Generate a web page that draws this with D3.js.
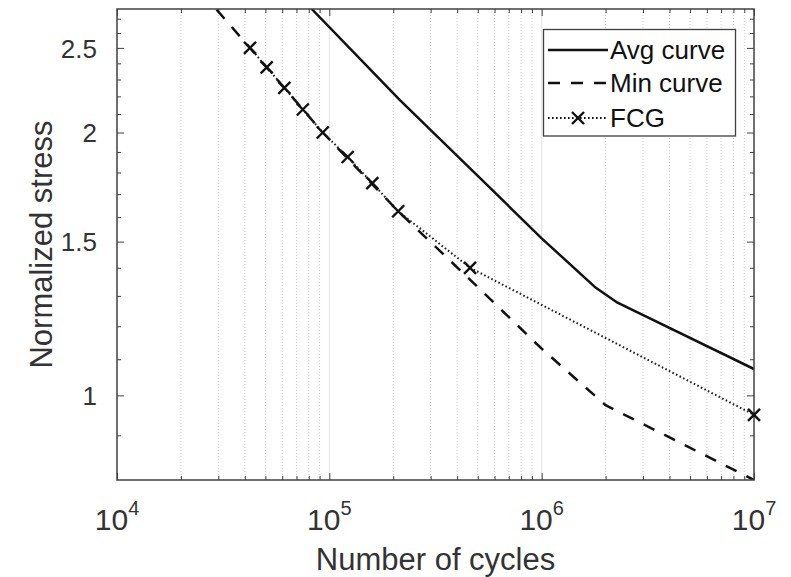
<!DOCTYPE html>
<html>
<head>
<meta charset="utf-8">
<script src="https://cdn.jsdelivr.net/npm/d3@7"></script>
<style>
	body { margin: 0; background: #ffffff; }
	svg { display: block; font-family: "Liberation Sans", Arial, sans-serif; }
</style>
</head>
<body>
<script>
// S-N data (cycles, normalized stress)
var avgCycles = [6e4, 8.26e4, 2.15e5, 4.6e5, 1e6, 1.8e6, 2.25e6, 1e7];
var avgStress = [3.0, 2.77, 2.178, 1.82, 1.513, 1.328, 1.279, 1.072];

var minCycles = [2.5e4, 4.23e4, 9.31e4, 2.11e5, 4.44e5, 1e6, 2e6, 1e7];
var minStress = [2.894, 2.5, 2.0, 1.625, 1.368, 1.131, 0.9745, 0.80];

var fcgCycles = [4.23e4, 5.07e4, 6.14e4, 7.5e4, 9.31e4, 1.22e5, 1.594e5, 2.11e5, 4.6e5, 1e7];
var fcgStress = [2.5, 2.375, 2.25, 2.125, 2.0, 1.875, 1.75, 1.625, 1.40, 0.95];

var xMajorTicks = [1e4, 1e5, 1e6, 1e7];
var xTickExponents = ["4", "5", "6", "7"];
var yMajorTicks = [1, 1.5, 2, 2.5];
var yMinorTicks = [0.9, 1.1, 1.2, 1.3, 1.4, 1.6, 1.7, 1.8, 1.9, 2.1, 2.2, 2.3, 2.4, 2.6, 2.7];

var seriesNames = ["Avg curve", "Min curve", "FCG"];

var width = 791,
	height = 577;
// plot box edges (note: "top" is taken by window.top)
var pLeft = 117, pRight = 754, pTop = 9, pBottom = 480;

var svg = d3.select("body").append("svg")
	.attr("width", width)
	.attr("height", height);

var x = d3.scaleLog().domain([1e4, 1e7]).range([pLeft, pRight]);
var y = d3.scaleLog().domain([0.8, 2.77]).range([pBottom, pTop]);

// minor x values 2..9 x 10^n
var xMinorTicks = [];
xMajorTicks.slice(0, -1).forEach(function(d) {
	for (var k = 2; k <= 9; k++) { xMinorTicks.push(d * k); }
});

// vertical grid (minor dotted, major solid)
svg.append("g").selectAll("line")
	.data(xMinorTicks)
	.enter().append("line")
	.attr("x1", function(d) { return x(d); })
	.attr("x2", function(d) { return x(d); })
	.attr("y1", pTop).attr("y2", pBottom)
	.attr("stroke", "#cccccc")
	.attr("stroke-width", 1)
	.attr("stroke-dasharray", "1,2");

svg.append("g").selectAll("line")
	.data(xMajorTicks.slice(1, -1))
	.enter().append("line")
	.attr("x1", function(d) { return x(d); })
	.attr("x2", function(d) { return x(d); })
	.attr("y1", pTop).attr("y2", pBottom)
	.attr("stroke", "#e2e2e2")
	.attr("stroke-width", 1);

// axes, ticks pointing inward
function addAxis(axis, tx, ty) {
	var g = svg.append("g")
		.attr("transform", "translate(" + tx + "," + ty + ")")
		.call(axis);
	g.select(".domain").remove();
	g.selectAll(".tick line").attr("stroke", "#404040");
	return g;
}

addAxis(d3.axisBottom(x).tickValues(xMajorTicks).tickSize(-7).tickFormat(""), 0, pBottom);
addAxis(d3.axisBottom(x).tickValues(xMinorTicks).tickSize(-4).tickFormat(""), 0, pBottom);
addAxis(d3.axisTop(x).tickValues(xMajorTicks).tickSize(-7).tickFormat(""), 0, pTop);
addAxis(d3.axisTop(x).tickValues(xMinorTicks).tickSize(-4).tickFormat(""), 0, pTop);

var yAxisG = addAxis(d3.axisLeft(y).tickValues(yMajorTicks).tickSize(-7).tickPadding(20)
	.tickFormat(d3.format("")), pLeft, 0);
yAxisG.selectAll("text")
	.attr("font-size", 26)
	.attr("fill", "#333333")
	.attr("font-family", "Liberation Sans, Arial, sans-serif")
	.attr("dy", "0.36em");
addAxis(d3.axisLeft(y).tickValues(yMinorTicks).tickSize(-4).tickFormat(""), pLeft, 0);
addAxis(d3.axisRight(y).tickValues(yMajorTicks).tickSize(-7).tickFormat(""), pRight, 0);
addAxis(d3.axisRight(y).tickValues(yMinorTicks).tickSize(-4).tickFormat(""), pRight, 0);

// x tick labels with exponent
var xLabels = svg.append("g").selectAll("text")
	.data(xMajorTicks)
	.enter().append("text")
	.attr("x", function(d) { return x(d); })
	.attr("y", 530)
	.attr("text-anchor", "middle")
	.attr("fill", "#333333")
	.attr("font-size", 30);
xLabels.append("tspan").text("10");
xLabels.append("tspan")
	.attr("dy", -15)
	.attr("font-size", 20)
	.text(function(d, i) { return xTickExponents[i]; });

// axis titles
svg.append("text")
	.attr("x", (pLeft + pRight) / 2)
	.attr("y", 570)
	.attr("text-anchor", "middle")
	.attr("fill", "#333333")
	.attr("font-size", 31)
	.text("Number of cycles");

svg.append("text")
	.attr("transform", "translate(52," + (pTop + pBottom) / 2 + ") rotate(-90)")
	.attr("text-anchor", "middle")
	.attr("fill", "#333333")
	.attr("font-size", 31)
	.text("Normalized stress");

// clip for the curves
svg.append("clipPath").attr("id", "plotclip")
	.append("rect")
	.attr("x", pLeft).attr("y", pTop)
	.attr("width", pRight - pLeft).attr("height", pBottom - pTop);

var line = d3.line()
	.x(function(d) { return x(d[0]); })
	.y(function(d) { return y(d[1]); });

function pairs(xs, ys) {
	return xs.map(function(d, i) { return [d, ys[i]]; });
}

var curves = svg.append("g").attr("clip-path", "url(#plotclip)");

curves.append("path")
	.datum(pairs(avgCycles, avgStress))
	.attr("d", line)
	.attr("fill", "none")
	.attr("stroke", "#111111")
	.attr("stroke-width", 2.5)
	.attr("stroke-linejoin", "round");

curves.append("path")
	.datum(pairs(minCycles, minStress))
	.attr("d", line)
	.attr("fill", "none")
	.attr("stroke", "#111111")
	.attr("stroke-width", 2.5)
	.attr("stroke-dasharray", "12,11");

curves.append("path")
	.datum(pairs(fcgCycles, fcgStress))
	.attr("d", line)
	.attr("fill", "none")
	.attr("stroke", "#222222")
	.attr("stroke-width", 2)
	.attr("stroke-dasharray", "1.6,2.4");

// box
svg.append("rect")
	.attr("x", pLeft).attr("y", pTop)
	.attr("width", pRight - pLeft).attr("height", pBottom - pTop)
	.attr("fill", "none")
	.attr("stroke", "#404040")
	.attr("stroke-width", 1.5);

// x markers (not clipped, last one sits on the axis)
var cross = "M-6,-6L6,6M-6,6L6,-6";
svg.append("g").selectAll("path")
	.data(pairs(fcgCycles, fcgStress))
	.enter().append("path")
	.attr("transform", function(d) { return "translate(" + x(d[0]) + "," + y(d[1]) + ")"; })
	.attr("d", cross)
	.attr("stroke", "#111111")
	.attr("stroke-width", 2.4);

// legend
var legend = svg.append("g");
legend.append("rect")
	.attr("x", 543.5).attr("y", 29.5)
	.attr("width", 192).attr("height", 106.5)
	.attr("fill", "#ffffff")
	.attr("stroke", "#404040")
	.attr("stroke-width", 1.3);

var legendRows = [50, 83, 118];
var legendDash = ["none", "12,11", "1.6,2.4"];
var legendWidth = [2.5, 2.5, 2];

legendRows.forEach(function(ry, i) {
	legend.append("line")
		.attr("x1", 548).attr("x2", 608)
		.attr("y1", ry).attr("y2", ry)
		.attr("stroke", "#111111")
		.attr("stroke-width", legendWidth[i])
		.attr("stroke-dasharray", legendDash[i]);
	legend.append("text")
		.attr("x", 610)
		.attr("y", ry + 9)
		.attr("fill", "#111111")
		.attr("font-size", 26)
		.text(seriesNames[i]);
});
legend.append("path")
	.attr("transform", "translate(578," + legendRows[2] + ")")
	.attr("d", cross)
	.attr("stroke", "#111111")
	.attr("stroke-width", 2.4);
</script>
</body>
</html>
